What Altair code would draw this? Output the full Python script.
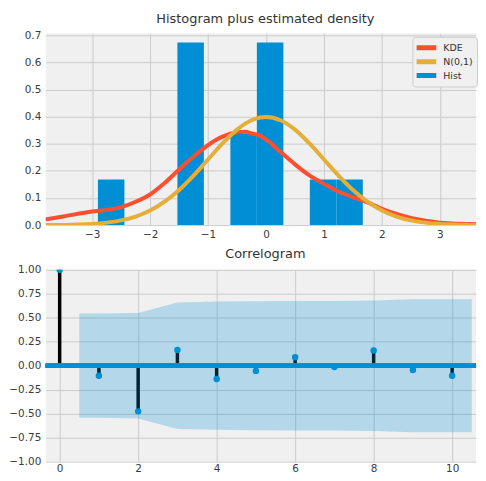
import altair as alt
import pandas as pd

# ---------------- data: histogram + densities ----------------
bin_start = [-2.900, -2.443, -1.986, -1.529, -1.072, -0.615, -0.158, 0.299, 0.756, 1.213]
bin_end = [-2.443, -1.986, -1.529, -1.072, -0.615, -0.158, 0.299, 0.756, 1.213, 1.670]
hist_density = [0.168, 0.0, 0.0, 0.673, 0.0, 0.337, 0.673, 0.0, 0.168, 0.168]

grid_x = [-3.9, -3.5, -3.0, -2.75, -2.5, -2.25, -2.0, -1.75, -1.5, -1.25, -1.0, -0.75,
          -0.5, -0.35, -0.25, -0.1, 0.0, 0.25, 0.5, 0.75, 1.0, 1.25, 1.5, 1.75, 2.0,
          2.25, 2.5, 2.75, 3.0, 3.5, 3.8]
kde_y = [0.018, 0.032, 0.050, 0.056, 0.066, 0.086, 0.113, 0.155, 0.205, 0.253, 0.295, 0.326,
         0.342, 0.344, 0.338, 0.330, 0.316, 0.270, 0.224, 0.183, 0.152, 0.124, 0.103, 0.084, 0.060,
         0.041, 0.026, 0.016, 0.009, 0.004, 0.002]
norm_y = [0.0002, 0.0009, 0.0044, 0.0091, 0.0175, 0.0317, 0.0540, 0.0863, 0.1295, 0.1826, 0.2420, 0.3011,
          0.3521, 0.3752, 0.3867, 0.3970, 0.3989, 0.3867, 0.3521, 0.3011, 0.2420, 0.1826, 0.1295, 0.0863, 0.0540,
          0.0317, 0.0175, 0.0091, 0.0044, 0.0009, 0.0003]

series_names = ["KDE", "N(0,1)", "Hist"]
series_colors = ["#fc4f30", "#e5ae38", "#008fd5"]

x_ticks_top = [-3, -2, -1, 0, 1, 2, 3]
y_ticks_top = [0.0, 0.1, 0.2, 0.3, 0.4, 0.5, 0.6, 0.7]

# ---------------- data: correlogram ----------------
lags = [0, 1, 2, 3, 4, 5, 6, 7, 8, 9, 10]
acf_vals = [1.0, -0.105, -0.476, 0.165, -0.139, -0.054, 0.088, -0.014, 0.159, -0.044, -0.105]
band_x = [0.5, 1, 2, 3, 4, 5, 6, 7, 8, 9, 10, 10.5]
band_upper = [0.544, 0.544, 0.550, 0.660, 0.669, 0.673, 0.676, 0.676, 0.680, 0.693, 0.694, 0.694]
band_lower = [-v for v in band_upper]

x_ticks_bot = [0, 2, 4, 6, 8, 10]
y_ticks_bot = [-1.0, -0.75, -0.5, -0.25, 0.0, 0.25, 0.5, 0.75, 1.0]

# ---------------- tables ----------------
hist_df = pd.DataFrame({"start": bin_start, "end": bin_end, "density": hist_density,
                        "series": ["Hist"] * len(bin_start)})
kde_df = pd.DataFrame({"x": grid_x, "y": kde_y})
norm_df = pd.DataFrame({"x": grid_x, "y": norm_y})
acf_df = pd.DataFrame({"lag": lags, "acf": acf_vals})
band_df = pd.DataFrame({"lag": band_x, "lower": band_lower, "upper": band_upper})

FONT = "DejaVu Sans"
W = 433
H = 193

xs_top = alt.Scale(domain=[-3.80, 3.623], nice=False, zero=False)
ys_top = alt.Scale(domain=[0, 0.707], nice=False, zero=False)

ax_x_top = alt.Axis(values=x_ticks_top, format="d", labelPadding=4, tickCount=30)
ax_y_top = alt.Axis(values=y_ticks_top, format=".1f", labelPadding=5, tickCount=30)

bars = alt.Chart(hist_df).mark_rect().encode(
    x=alt.X("start:Q", scale=xs_top, axis=ax_x_top, title=None),
    x2="end:Q",
    y=alt.Y("density:Q", scale=ys_top, axis=ax_y_top, title=None),
    y2=alt.datum(0),
    color=alt.Color(
        "series:N",
        scale=alt.Scale(domain=series_names, range=series_colors),
        legend=alt.Legend(
            title=None, orient="none", legendX=369, legendY=3.5,
            symbolType="M-1,-0.25H1V0.25H-1Z", symbolSize=400, symbolStrokeWidth=0,
            symbolOpacity=1, labelFont=FONT, labelFontSize=9.5, labelColor="#333333",
            labelOffset=7, rowPadding=0, clipHeight=14, padding=4,
            fillColor="#f0f0f0", strokeColor="#cccccc", cornerRadius=3,
        ),
    ),
)

kde_line = alt.Chart(kde_df).mark_line(
    color=series_colors[0], strokeWidth=4, clip=True, interpolate="monotone"
).encode(x=alt.X("x:Q", scale=xs_top), y=alt.Y("y:Q", scale=ys_top))

norm_line = alt.Chart(norm_df).mark_line(
    color=series_colors[1], strokeWidth=4, clip=True, interpolate="monotone"
).encode(x=alt.X("x:Q", scale=xs_top), y=alt.Y("y:Q", scale=ys_top))

top = alt.layer(bars, kde_line, norm_line).properties(
    width=W, height=H,
    title=alt.TitleParams("Histogram plus estimated density", dx=4.5),
)

xs_bot = alt.Scale(domain=[-0.354, 10.608], nice=False, zero=False)
ys_bot = alt.Scale(domain=[-1, 1], nice=False, zero=False)
ax_x_bot = alt.Axis(values=x_ticks_bot, format="d", labelPadding=2, tickCount=30)
ax_y_bot = alt.Axis(values=y_ticks_bot, format=".2f", labelPadding=5, tickCount=30)

stems = alt.Chart(acf_df).mark_rule(color="black", strokeWidth=3.5).encode(
    x=alt.X("lag:Q", scale=xs_bot, axis=ax_x_bot, title=None),
    y=alt.Y("acf:Q", scale=ys_bot, axis=ax_y_bot, title=None),
    y2=alt.datum(0),
)
zero_line = alt.Chart(acf_df).mark_rule(color="#008fd5", strokeWidth=4).encode(
    y=alt.Y(datum=0, scale=ys_bot)
)
points = alt.Chart(acf_df).mark_circle(color="#008fd5", size=42, opacity=1, clip=True).encode(
    x=alt.X("lag:Q", scale=xs_bot), y=alt.Y("acf:Q", scale=ys_bot)
)
band = alt.Chart(band_df).mark_area(color="#008fd5", opacity=0.25).encode(
    x=alt.X("lag:Q", scale=xs_bot), y=alt.Y("lower:Q", scale=ys_bot), y2="upper:Q"
)

bottom = alt.layer(stems, zero_line, points, band).properties(
    width=W, height=H,
    title=alt.TitleParams("Correlogram", dx=4.5),
)

chart = alt.vconcat(top, bottom, spacing=8).properties(
    padding={"left": 0, "top": 3, "right": 0, "bottom": 0}
).configure_view(fill="#f0f0f0", stroke=None).configure_axis(
    grid=True, gridColor="#cbcbcb", gridWidth=1, domain=False, ticks=False,
    labelFont=FONT, labelFontSize=10.5, labelColor="#3b3b3b", labelOverlap=False,
).configure_title(
    font=FONT, fontSize=13, color="#333333", fontWeight="normal", offset=4, anchor="middle"
)

chart.save("out.html", embed_options={"renderer": "svg", "actions": False})
